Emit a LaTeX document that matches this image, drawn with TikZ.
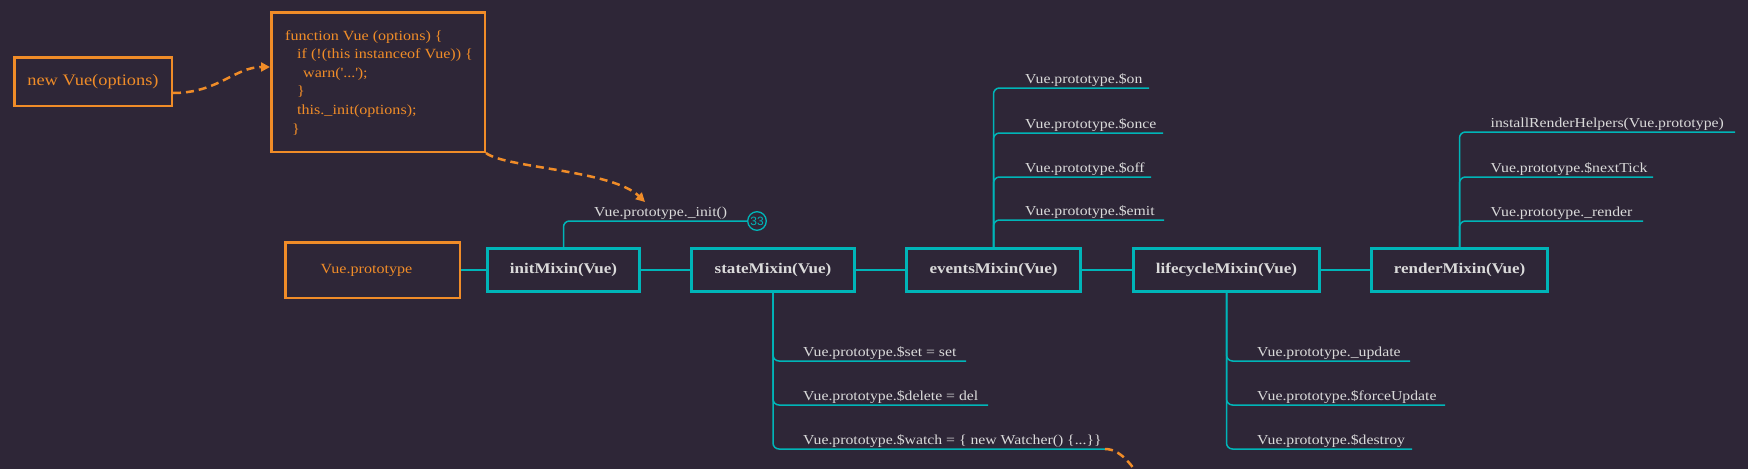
\documentclass[tikz,border=0pt]{standalone}
\usepackage{fontspec}
\setmainfont[FakeStretch=1.15]{Liberation Serif}
\newfontfamily\numfont{Liberation Sans}
\usetikzlibrary{arrows.meta}
\definecolor{bg}{HTML}{2E2637}
\definecolor{tealc}{HTML}{00B5B8}
\definecolor{orng}{HTML}{F08C28}
\definecolor{txt}{HTML}{DADADA}
\begin{document}
\begin{tikzpicture}[x=1pt,y=-1pt,
  mixbox/.style={draw=tealc, line width=3pt, fill=bg, text=txt, font=\fontsize{14.8}{18}\selectfont\bfseries, inner sep=0pt, minimum height=43pt},
  obox/.style={draw=orng, line width=2.5pt, fill=bg, inner sep=0pt, text=orng},
  link/.style={draw=tealc, line width=1.6pt},
  branch/.style={draw=tealc, line width=1.5pt, rounded corners=6pt},
  lbl/.style={text=txt, font=\fontsize{13.7}{16}\selectfont, inner sep=0pt, anchor=base west},
  codeline/.style={text=orng, font=\fontsize{14}{16}\selectfont, inner sep=0pt, anchor=base west},
  dashto/.style={draw=orng, line width=2.5pt, dash pattern=on 8pt off 5pt, -{Triangle[length=9pt,width=9pt]}},
  dashline/.style={draw=orng, line width=2.5pt, dash pattern=on 8pt off 5pt},
]
\useasboundingbox (0,0) rectangle (1748,469);
\fill[bg] (0,0) rectangle (1748,469);
\clip (0,0) rectangle (1748,469);

% orange boxes
\node[obox, minimum width=157.5pt, minimum height=48.5pt, font=\fontsize{16}{18}\selectfont] (newvue) at (93,81.5) {new Vue(options)};
\node[obox, minimum width=213.5pt, minimum height=139.5pt] (code) at (378,82) {};
\node[codeline] (c1) at (285,40) {function Vue (options) \{};
\node[codeline] (c2) at (297,58.6) {if (!(this instanceof Vue)) \{};
\node[codeline] (c3) at (303,77.2) {warn(\textquotesingle...\textquotesingle);};
\node[codeline] (c4) at (297,95.8) {\}};
\node[codeline] (c5) at (297,114.4) {this.\_init(options);};
\node[codeline] (c6) at (292,133) {\}};

% main row
\node[obox, minimum width=174.5pt, minimum height=55.5pt] (proto) at (372.5,270) {};
\node[text=orng, inner sep=0pt, font=\fontsize{14}{16}\selectfont] (protolbl) at (366.5,270) {Vue.prototype};
\node[mixbox, minimum width=152pt] (init) at (563.5,270) {initMixin(Vue)};
\node[mixbox, minimum width=163pt] (state) at (773,270) {stateMixin(Vue)};
\node[mixbox, minimum width=174pt] (events) at (993.5,270) {eventsMixin(Vue)};
\node[mixbox, minimum width=186pt] (life) at (1226.5,270) {lifecycleMixin(Vue)};
\node[mixbox, minimum width=176pt] (render) at (1459.5,270) {renderMixin(Vue)};

\draw[link] (proto) -- (init);
\draw[link] (init) -- (state);
\draw[link] (state) -- (events);
\draw[link] (events) -- (life);
\draw[link] (life) -- (render);

% init branch
\node[circle, draw=tealc, line width=1.3pt, fill=bg, minimum size=18.6pt, inner sep=0pt, text=tealc, font=\numfont\fontsize{12}{12}\selectfont] (c33) at (757,221) {33};
\draw[branch] (init.north) |- (c33.west);
\node[lbl] (initlbl) at (594,216) {Vue.prototype.\_init()};

% events branches
\coordinate (onE) at (1149,88);
\coordinate (onceE) at (1163,133);
\coordinate (offE) at (1151,177);
\coordinate (emitE) at (1164,220);
\draw[branch] (events.north) |- (onE);
\draw[branch] (events.north) |- (onceE);
\draw[branch] (events.north) |- (offE);
\draw[branch] (events.north) |- (emitE);
\node[lbl] (on) at (1025,83.5) {Vue.prototype.\$on};
\node[lbl] (once) at (1025,128.5) {Vue.prototype.\$once};
\node[lbl] (off) at (1025,172.5) {Vue.prototype.\$off};
\node[lbl] (emit) at (1025,215.5) {Vue.prototype.\$emit};

% state branches
\coordinate (setE) at (966,361);
\coordinate (delE) at (988,405);
\coordinate (watchE) at (1105,449);
\draw[branch] (state.south) |- (setE);
\draw[branch] (state.south) |- (delE);
\draw[branch] (state.south) |- (watchE);
\node[lbl] (set) at (803,356.5) {Vue.prototype.\$set = set};
\node[lbl] (del) at (803,400.5) {Vue.prototype.\$delete = del};
\node[lbl] (watch) at (803,444.5) {Vue.prototype.\$watch = \{ new Watcher() \{...\}\}};

% lifecycle branches
\coordinate (updE) at (1410,361);
\coordinate (forceE) at (1445,405);
\coordinate (destE) at (1412,449);
\draw[branch] (life.south) |- (updE);
\draw[branch] (life.south) |- (forceE);
\draw[branch] (life.south) |- (destE);
\node[lbl] (upd) at (1257,356.5) {Vue.prototype.\_update};
\node[lbl] (force) at (1257,400.5) {Vue.prototype.\$forceUpdate};
\node[lbl] (dest) at (1257,444.5) {Vue.prototype.\$destroy};

% render branches
\coordinate (instE) at (1735,132);
\coordinate (tickE) at (1653,177);
\coordinate (rendE) at (1643,221);
\draw[branch] (render.north) |- (instE);
\draw[branch] (render.north) |- (tickE);
\draw[branch] (render.north) |- (rendE);
\node[lbl] (inst) at (1490.5,127.5) {installRenderHelpers(Vue.prototype)};
\node[lbl] (tick) at (1490.5,172.5) {Vue.prototype.\$nextTick};
\node[lbl] (rend) at (1490.5,216.5) {Vue.prototype.\_render};

% orange dashed connectors
\coordinate (initTip) at (645,202);
\coordinate (offpage) at (1150,492);
\draw[dashto] ([yshift=-11.5pt]newvue.east) .. controls +(45,0) and +(-35,0) .. ([yshift=15pt]code.west);
\draw[dashto] (code.south east) .. controls (505,168) and (612,170) .. (initTip);
\draw[dashline] (watchE) .. controls +(18,0) and +(-15,-22) .. (offpage);
\end{tikzpicture}
\end{document}
